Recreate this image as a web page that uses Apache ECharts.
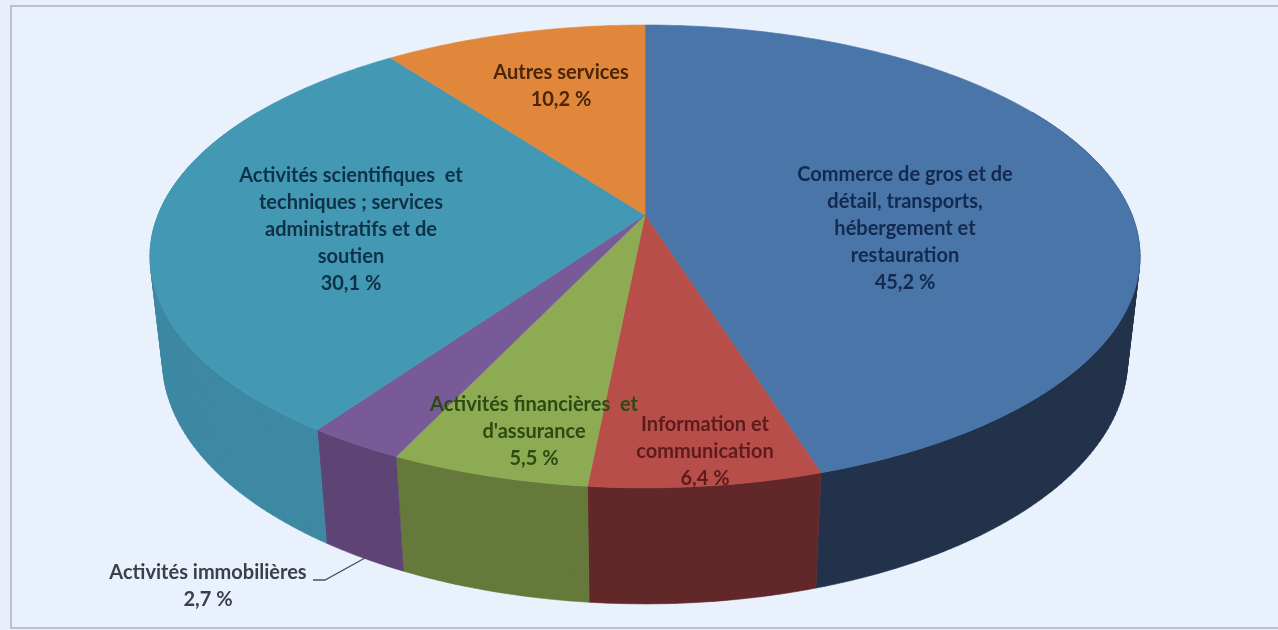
<!DOCTYPE html>
<html lang="fr">
<head>
<meta charset="utf-8">
<title>Répartition par activité</title>
<style>html,body{margin:0;padding:0;background:#e8effa}#c{width:1278px;height:630px}</style>
<script src="https://cdn.jsdelivr.net/npm/echarts@6/dist/echarts.min.js"></script>
</head>
<body>
<div id="c"></div>
<script>
// ---- data ----
const categories = [
  "Commerce de gros et de\ndétail, transports,\nhébergement et\nrestauration",
  "Information et\ncommunication",
  "Activités financières  et\nd'assurance",
  "Activités immobilières",
  "Activités scientifiques  et\ntechniques ; services\nadministratifs et de\nsoutien",
  "Autres services"
];
const shares = [45.2, 6.4, 5.5, 2.7, 30.1, 10.2];
const shareLabels = ["45,2 %", "6,4 %", "5,5 %", "2,7 %", "30,1 %", "10,2 %"];

// ---- styling ----
const topColors  = ["#4a75a9", "#b84e4a", "#8dab52", "#785a98", "#4398b3", "#e0873b"];
const sideColors = ["#22324a", "#622829", "#64793a", "#5e4474", "#3d88a2", "#c06f2c"];
const textColors = ["#13294d", "#5e1b1c", "#2c4a12", "#3b3f48", "#0f3148", "#4a2508"];
const labelAnchors = [[905, 229], [705, 452], [534, 432], [208, 586], [351, 230], [561, 86]];
const leader = [[313, 580], [325, 580], [365, 558]];

// ---- tilted-disc projection (perspective view of the pie) ----
const view = {cx: 645, cy: 215, A: 487, B: 224, k: 0.179, m: 0.025, D: 105};
function project(deg, h, frac) {
  const t = deg * Math.PI / 180, f = frac === undefined ? 1 : frac;
  const u = Math.sin(t) * f, v = Math.cos(t) * f;
  const w = 1 + view.k * v + view.m * h;
  return [view.cx + view.A * u / w, view.cy + (-view.B * v + view.D * h) / w];
}
const total = shares.reduce((a, b) => a + b, 0);
const seriesData = [];
let acc = 0;
shares.forEach((s, i) => { seriesData.push([i, acc / total * 360, (acc + s) / total * 360]); acc += s; });

function arc(a0, a1, h) {
  const pts = [], n = Math.max(2, Math.ceil(Math.abs(a1 - a0)));
  for (let i = 0; i <= n; i++) pts.push(project(a0 + (a1 - a0) * i / n, h));
  return pts;
}
function signedArea(q) {
  let s = 0;
  q.forEach((p, i) => { const r = q[(i + 1) % q.length]; s += p[0] * r[1] - r[0] * p[1]; });
  return s;
}
function renderTop(p, api) {
  const i = api.value(0);
  const pts = [project(0, 0, 0)].concat(arc(api.value(1), api.value(2), 0));
  return {type: 'polygon', shape: {points: pts},
    style: {fill: topColors[i], stroke: topColors[i], lineWidth: 0.6}};
}
function renderSide(p, api) {
  const i = api.value(0);
  const a0 = Math.max(api.value(1), 60), a1 = Math.min(api.value(2), 300);
  if (a1 <= a0) return null;
  const topArc = arc(a0, a1, 0), lowArc = arc(a0, a1, 1);
  let d = '';
  for (let j = 0; j + 1 < topArc.length; j++) {
    let q = [topArc[j], topArc[j + 1], lowArc[j + 1], lowArc[j]];
    if (signedArea(q) < 0) q = q.reverse();   // same winding everywhere: no seams, no holes
    d += 'M' + q.map(c => c[0].toFixed(2) + ' ' + c[1].toFixed(2)).join('L') + 'Z';
  }
  return {type: 'path', shape: {pathData: d},
    style: {fill: sideColors[i], stroke: sideColors[i], lineWidth: 0.6}};
}
function renderLabel(p, api) {
  const i = api.value(0), pos = labelAnchors[i];
  const children = [{type: 'text', x: pos[0], y: pos[1], style: {
    text: categories[i] + "\n" + shareLabels[i], fill: textColors[i], align: 'center', verticalAlign: 'middle',
    font: '700 20px Lato', lineHeight: 27}}];
  if (i === 3) children.push({type: 'polyline', shape: {points: leader},
    style: {stroke: '#4c5058', lineWidth: 1.3, fill: 'none'}});
  return {type: 'group', children};
}

const chart = echarts.init(document.getElementById('c'), null, {renderer: 'canvas'});
chart.setOption({
  backgroundColor: '#e8effa',
  animation: false,
  graphic: [{type: 'rect', z: 0, shape: {x: 11, y: 6, width: 1300, height: 622},
    style: {fill: '#e9f1fd', stroke: '#abb1c2', lineWidth: 1.5}}],
  series: [
    {type: 'custom', name: 'Côté', coordinateSystem: 'none', z: 1, silent: true, data: seriesData, renderItem: renderSide},
    {type: 'custom', name: 'Part', coordinateSystem: 'none', z: 2, silent: true, data: seriesData, renderItem: renderTop},
    {type: 'custom', name: 'Étiquettes', coordinateSystem: 'none', z: 3, silent: true, data: seriesData, renderItem: renderLabel}
  ]
});
</script>
</body>
</html>
